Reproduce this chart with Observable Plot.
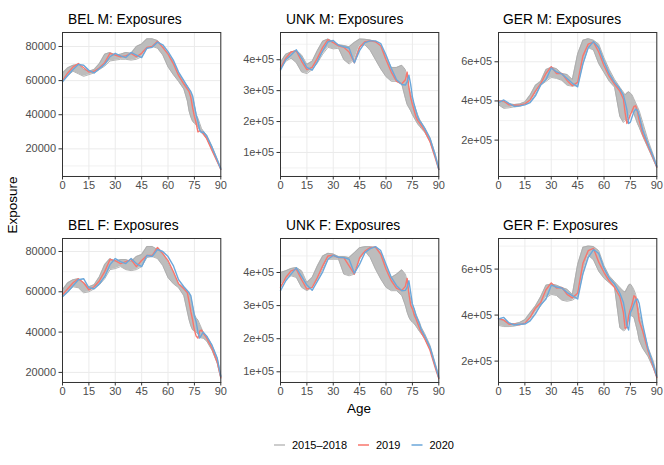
<!DOCTYPE html>
<html><head><meta charset="utf-8">
<script src="https://cdn.jsdelivr.net/npm/d3@7"></script>
<script src="https://cdn.jsdelivr.net/npm/@observablehq/plot@0.6"></script>
<style>
body{margin:0;background:#fff;font-family:"Liberation Sans",Arial,sans-serif;}
#wrap{position:relative;width:664px;height:465px;overflow:hidden;background:#fff}
.panel{position:absolute}
.title{position:absolute;font-size:13.8px;color:#000;white-space:nowrap;line-height:16px}
.axt{position:absolute;font-size:13.5px;color:#000;white-space:nowrap;line-height:16px}
#legend{position:absolute;left:0;top:437px;width:664px;height:16px}
</style>
</head><body><div id="wrap"></div>
<script>
// ages (x values) shared by all panels
const ages = [0,3,6,9,12,15,18,21,24,27,30,33,36,39,42,45,48,51,54,57,60,63,66,69,71,72,73,74,75,76,77,78,79,80,82,85,88,90];
const xTicks = [0,15,30,45,60,75,90];
const legendLabels = ["2015\u20132018","2019","2020"];

// Values in thousands. min/max = range of the 2015-2018 lines
const belM_2020 = [59.3,63,66.5,69.5,69,66,64.5,67,69.5,74,76,74.5,73.5,76.5,75,73.5,79,79.5,82.5,81,77,72,65,60, 56.5,55,53.5,51,45,40,36,31,29.5,30, 27.5,21,13.5,8.2];
const belM_2019 = [60,64.5,68,70,67.5,65,65.5,67.5,70.5,76,75,74,74.5,76,74,76,79.5,80,83,79.5,75.5,70,63,58, 55,53.5,50,44,39,35,30,30.5,30,29, 26,19,12.5,8];
const belM_min  = [60.5,63,65.5,64,62.5,63.5,64.5,66.5,68.5,71.5,72,72.5,72.5,72,72.5,74,79,80,79,75,68,63.5,59.5,55, 48,42,38.5,36,35,34,33,31,29.5,28.5, 26,19.5,12.5,8];
const belM_max  = [64.5,67.5,69,69.5,66.5,65.5,66.5,70,75.5,76.5,75,75.5,76.5,76,80,81.5,84.5,84.5,83.5,80,76,71,64.5,59.5, 57,55,53,50,46,40,38,35,32,30.5, 28,21.5,14,9];

const unkM_2020 = [366,400,415,432,405,375,366,394,429,458,462,447,442,438,390,430,455,461,461,452,415,372,335,320, 318,328,350,320,280,255,235,215,203,196, 178,145,90,46];
const unkM_2019 = [372,405,425,428,395,368,375,405,440,465,455,445,440,425,390,440,458,461,458,445,400,360,330,322, 335,360,310,278,255,235,215,203,196,188, 170,135,82,45];
const unkM_min  = [370,395,405,390,360,355,368,390,418,440,435,437,400,386,400,445,448,430,400,370,345,330,330,320, 275,255,245,235,222,212,202,192,185,178, 165,135,85,45];
const unkM_max  = [392,418,425,430,415,385,395,430,460,467,458,448,446,442,456,467,466,464,458,445,410,375,375,382, 368,340,310,290,270,255,238,222,208,198, 180,148,95,52];

const gerM_2020 = [392,405,388,372,375,380,392,426,482,510,568,548,538,515,490,472,590,672,703,672,600,538,495,462, 430,395,355,285,292,320,345,358,352,325, 250,180,115,65];
const gerM_2019 = [400,400,380,378,378,385,405,450,488,540,575,540,540,505,478,495,630,690,700,650,580,525,485,450, 410,340,285,305,330,350,372,375,345,300, 230,170,108,62];
const gerM_min  = [380,362,365,370,372,382,395,435,480,500,520,515,505,480,475,480,590,672,660,590,545,500,470,320, 290,300,300,315,335,345,335,310,285,265, 220,160,100,60];
const gerM_max  = [400,395,385,382,385,395,430,480,500,560,572,565,540,535,510,640,710,718,710,690,620,560,510,470, 445,430,440,447,440,430,410,390,370,350, 290,200,125,70];

const belF_2020 = [57.5,60,63,66,66.5,62,61.5,64,67.5,73.5,76.5,75,74,76.5,74,72.5,78,77.5,81,80,77.5,73,66,62.5, 60.5,59.5,58,53,48,45,40,37,38.5,40, 38,33.5,27,18];
const belF_2019 = [58.5,61.5,64.5,66.5,64.5,61,62.5,65.5,70,76,75.5,74,75,76,72.5,75.5,78,78,82,79,75.5,70,64,61.5, 59.5,55,50,46,41,38,37,40.5,41,39.5, 37,32,25,17.5];
const belF_min  = [57.5,60,62.5,62,59.5,60,61.5,63.5,66.5,71,71.5,72.5,71,70.5,71,72.5,77,77.5,76.5,73,67,64,62,58, 50,46,43,41,40.5,40,39,38,37,37, 35.5,31,24.5,17];
const belF_max  = [61,64.5,66,66.5,64.5,62.5,63.5,67.5,73.5,76.5,75,76,76,75,77.5,78.5,82.5,82.5,81,79,74.5,69,64,62, 60,59,57,53,49,47,46,44,42,40, 38,33.5,27,18.5];

const unkF_2020 = [345,375,395,414,388,362,346,374,402,440,452,446,445,440,398,425,460,472,478,466,425,385,360,345, 346,355,375,340,305,290,270,258,245,228, 208,175,120,83];
const unkF_2019 = [355,385,405,410,378,350,355,385,420,450,452,445,445,420,395,445,465,475,477,455,410,375,352,346, 358,382,335,302,290,272,260,246,232,220, 200,165,112,80];
const unkF_min  = [360,380,390,385,355,345,355,380,410,440,440,440,395,390,395,440,465,445,410,380,355,345,345,330, 300,280,265,255,250,245,238,230,222,215, 200,168,115,80];
const unkF_max  = [400,405,412,415,405,370,385,420,450,458,456,448,448,445,460,475,478,478,475,460,420,385,395,408, 395,375,345,320,300,290,275,262,250,235, 215,180,125,88];

const gerF_2020 = [383,390,366,357,360,361,375,405,445,470,530,522,518,498,485,470,580,650,685,668,603,560,535,495, 455,412,354,335,411,426,448,465,470,450, 360,255,185,133];
const gerF_2019 = [385,378,360,360,358,365,390,430,455,510,540,518,520,490,475,495,625,680,690,630,585,548,520,480, 412,343,346,397,426,448,484,477,433,375, 330,245,175,128];
const gerF_min  = [355,350,350,352,358,365,380,410,440,475,490,485,465,460,465,480,580,660,640,590,560,540,520,345, 332,335,360,380,400,395,390,360,330,290, 255,220,170,130];
const gerF_max  = [380,380,365,362,368,380,410,440,480,530,535,530,520,512,490,620,695,700,698,680,615,570,545,520, 505,500,515,530,535,525,510,490,450,410, 350,260,200,140];

const belTicks = [20000,40000,60000,80000];
const unkTicks = [100000,200000,300000,400000];
const gerTicks = [200000,400000,600000];

const colGrey = "#bdbdbd", colRed = "#F8766D", colBlue = "#6BA7DA";

const panels = [
  {title:"BEL M: Exposures", fl:62.3, ft:31.7, dom:[3800,88200], ticks:belTicks, minor:[10000,30000,50000,70000], sci:false, d:[belM_min,belM_max,belM_2019,belM_2020], tx:68, ty:12},
  {title:"UNK M: Exposures", fl:280.4, ft:31.7, dom:[22300,488000], ticks:unkTicks, minor:[50000,150000,250000,350000,450000], sci:true, d:[unkM_min,unkM_max,unkM_2019,unkM_2020], tx:286, ty:12},
  {title:"GER M: Exposures", fl:498.4, ft:31.7, dom:[14300,749500], ticks:gerTicks, minor:[100000,300000,500000,700000], sci:true, d:[gerM_min,gerM_max,gerM_2019,gerM_2020], tx:503, ty:12},
  {title:"BEL F: Exposures", fl:62.3, ft:237.7, dom:[15000,86450], ticks:belTicks, minor:[30000,50000,70000], sci:false, d:[belF_min,belF_max,belF_2019,belF_2020], tx:68, ty:218},
  {title:"UNK F: Exposures", fl:280.4, ft:237.7, dom:[67700,502700], ticks:unkTicks, minor:[150000,250000,350000,450000], sci:true, d:[unkF_min,unkF_max,unkF_2019,unkF_2020], tx:286, ty:218},
  {title:"GER F: Exposures", fl:498.4, ft:237.7, dom:[107000,733000], ticks:gerTicks, minor:[300000,500000,700000], sci:true, d:[gerF_min,gerF_max,gerF_2019,gerF_2020], tx:503, ty:218}
];

const ML = 56, MR = 4, MT = 4, MB = 22, W = 158.3, H = 144;
const wrap = document.getElementById("wrap");

function fmt(sci){ return sci ? (d => (d/1e5) + "e+05") : (d => String(d)); }

for (const p of panels) {
  const [mn, mx, r, b] = p.d;
  const rows = ages.map((a, i) => ({age:a, lo:mn[i]*1000, hi:mx[i]*1000, y2019:r[i]*1000, y2020:b[i]*1000}));
  const svg = Plot.plot({
    width: ML + W + MR, height: MT + H + MB,
    marginLeft: ML, marginRight: MR, marginTop: MT, marginBottom: MB,
    x: {domain:[0,90]},
    y: {domain: p.dom},
    style: {fontFamily:"'Liberation Sans', Arial, sans-serif", fontSize:"11px", color:"#4d4d4d", background:"transparent", overflow:"visible"},
    marks: [
      Plot.gridY(p.minor, {stroke:"#efefef", strokeOpacity:1, strokeWidth:0.8}),
      Plot.gridY(p.ticks, {stroke:"#ebebeb", strokeOpacity:1, strokeWidth:1}),
      Plot.gridX(xTicks, {stroke:"#ebebeb", strokeOpacity:1, strokeWidth:1}),
      Plot.areaY(rows, {x:"age", y1:"lo", y2:"hi", fill:colGrey, fillOpacity:1}),
      Plot.line(rows, {x:"age", y:"lo", stroke:"#acacac", strokeWidth:0.9}),
      Plot.line(rows, {x:"age", y:"hi", stroke:"#acacac", strokeWidth:0.9}),
      Plot.line(rows, {x:"age", y:"y2019", stroke:colRed, strokeWidth:1.4}),
      Plot.line(rows, {x:"age", y:"y2020", stroke:colBlue, strokeWidth:1.4}),
      Plot.frame({stroke:"#333", strokeWidth:1}),
      Plot.axisX(xTicks, {tickSize:3.5, tickPadding:1.5, label:null, stroke:"#333", fill:"#4d4d4d"}),
      Plot.axisY(p.ticks, {tickSize:3.5, tickPadding:3, label:null, tickFormat:fmt(p.sci), stroke:"#333", fill:"#4d4d4d"})
    ]
  });
  const div = document.createElement("div");
  div.className = "panel";
  div.style.left = (p.fl - ML) + "px";
  div.style.top = (p.ft - MT) + "px";
  div.appendChild(svg);
  wrap.appendChild(div);
  const t = document.createElement("div");
  t.className = "title";
  t.style.left = p.tx + "px";
  t.style.top = p.ty + "px";
  t.textContent = p.title;
  wrap.appendChild(t);
}

// axis titles
const ageT = document.createElement("div");
ageT.className = "axt"; ageT.textContent = "Age";
ageT.style.left = "347px"; ageT.style.top = "401px";
wrap.appendChild(ageT);
const expT = document.createElement("div");
expT.className = "axt"; expT.textContent = "Exposure";
expT.style.left = "-16px"; expT.style.top = "197px";
expT.style.transform = "rotate(-90deg)";
wrap.appendChild(expT);

// legend
const leg = d3.select("#wrap").append("svg").attr("id","legend").attr("width",664).attr("height",16);
const legItems = [
  {label:legendLabels[0], color:colGrey, x:274},
  {label:legendLabels[1], color:colRed, x:358},
  {label:legendLabels[2], color:colBlue, x:411.5}
];
for (const it of legItems) {
  leg.append("line").attr("x1", it.x).attr("x2", it.x + 11).attr("y1", 8).attr("y2", 8)
    .attr("stroke", it.color).attr("stroke-width", 1.5);
  leg.append("text").attr("x", it.x + 18).attr("y", 12)
    .attr("font-size", "11px").attr("font-family","'Liberation Sans', Arial, sans-serif").attr("fill","#000").text(it.label);
}
</script>
</body></html>
